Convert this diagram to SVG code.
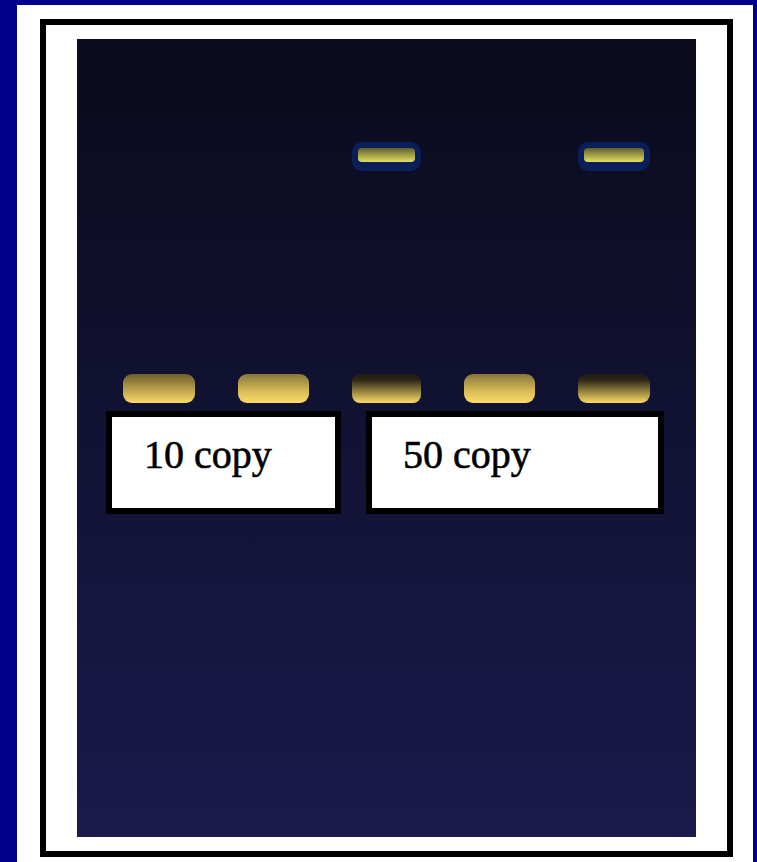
<svg xmlns="http://www.w3.org/2000/svg" width="757" height="862" viewBox="0 0 757 862">
<defs>
<linearGradient id="gel" x1="0" y1="0" x2="0" y2="1">
<stop offset="0" stop-color="#0a0a1c"/>
<stop offset="1" stop-color="#1a1a4c"/>
</linearGradient>
<linearGradient id="top" x1="0" y1="0" x2="0" y2="1">
<stop offset="0" stop-color="#5e5e2c"/>
<stop offset="1" stop-color="#e4e060"/>
</linearGradient>
<linearGradient id="bandA" x1="0" y1="0" x2="0" y2="1">
<stop offset="0" stop-color="#6e5e2c"/>
<stop offset="1" stop-color="#fbdc66"/>
</linearGradient>
<linearGradient id="bandB" x1="0" y1="0" x2="0" y2="1">
<stop offset="0" stop-color="#86763a"/>
<stop offset="0.6" stop-color="#d8bc58"/>
<stop offset="1" stop-color="#fcdc68"/>
</linearGradient>
<linearGradient id="bandC" x1="0" y1="0" x2="0" y2="1">
<stop offset="0" stop-color="#1c1a10"/>
<stop offset="0.2" stop-color="#2c2614"/>
<stop offset="1" stop-color="#fcdc68"/>
</linearGradient>
</defs>
<style>
.lbl{fill:#fff;stroke:#000;stroke-width:6}
.txt{font-family:"Liberation Serif","Times New Roman",serif;font-size:40px;font-weight:normal;fill:#000;stroke:#000;stroke-width:0.6}
.well{fill:#0a1e5a}
</style>
<rect x="0" y="0" width="757" height="862" fill="#00008c"/>
<rect x="17" y="5" width="736" height="857" fill="#fff"/>
<rect x="43" y="22" width="687" height="832" fill="none" stroke="#000" stroke-width="6"/>
<rect id="gel-area" x="77" y="39" width="619" height="798" fill="url(#gel)"/>
<g id="top-band-3">
<rect class="well" x="352" y="142" width="69" height="29" rx="10"/>
<rect x="358" y="148" width="57" height="14" rx="4" fill="url(#top)"/>
</g>
<g id="top-band-5">
<rect class="well" x="578" y="142" width="72" height="29" rx="10"/>
<rect x="584" y="148" width="60" height="14" rx="4" fill="url(#top)"/>
</g>
<g id="band-1"><rect x="123" y="374" width="72" height="29" rx="9" fill="url(#bandA)"/></g>
<g id="band-2"><rect x="238" y="374" width="71" height="29" rx="9" fill="url(#bandB)"/></g>
<g id="band-3"><rect x="352" y="374" width="69" height="29" rx="8" fill="url(#bandC)"/></g>
<g id="band-4"><rect x="464" y="374" width="71" height="29" rx="9" fill="url(#bandB)"/></g>
<g id="band-5"><rect x="578" y="374" width="72" height="29" rx="9" fill="url(#bandC)"/></g>
<g id="label-10">
<rect class="lbl" x="109" y="414" width="229" height="97"/>
<text class="txt" x="144" y="468">10 copy</text>
</g>
<g id="label-50">
<rect class="lbl" x="369" y="414" width="292" height="97"/>
<text class="txt" x="403" y="468">50 copy</text>
</g>
<g id="connectors"/>
</svg>
